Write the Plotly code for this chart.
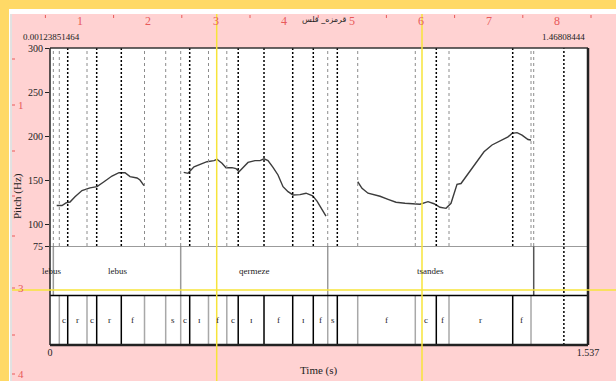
import plotly.graph_objects as go

# ---------------- data ----------------
T_MAX = 1.537
CURSOR_START = 0.00123851464
CURSOR_END = 1.46808444

pitch_t = [0.0191, 0.0343, 0.0457, 0.0571, 0.0714, 0.0914, 0.1143, 0.1343, 0.1543, 0.1771,
           0.1971, 0.2143, 0.2286, 0.2486, 0.2571, 0.2686, None,
           0.3820, 0.3943, 0.4114, 0.4285, 0.4485, 0.4685, 0.4771, 0.4914, 0.5028, 0.5200,
           0.5314, 0.5400, 0.5514, 0.5657, 0.5857, 0.6000, 0.6114, 0.6228, 0.6371, 0.6514,
           0.6657, 0.6800, 0.6942, 0.7142, 0.7314, 0.7505, 0.7628, 0.7742, 0.7885, None,
           0.8791, 0.8914, 0.9085, 0.9285, 0.9428, 0.9657, 0.9885, 1.0142, 1.0428, 1.0571,
           1.0799, 1.0971, 1.1142, 1.1314, 1.1456, 1.1542, 1.1628, 1.1742, 1.1914, 1.2171,
           1.2399, 1.2628, 1.2856, 1.3085, 1.3199, 1.3342, 1.3485, 1.3656, 1.3742]
pitch_hz = [121, 121, 124, 125, 131, 138, 141, 142.4, 148, 154.5,
            158.3, 158.3, 153.8, 152.3, 150, 143.5, None,
            158.7, 157.6, 165, 168, 170.8, 172, 173.5, 169, 164, 164,
            163, 159.5, 164, 170, 172, 172, 174, 172, 164.4, 155.7,
            142.4, 136.7, 133, 133.4, 135, 132, 126, 119, 109, None,
            148, 140.6, 135, 133, 131.5, 128, 124.7, 123.5, 122.7, 122.5,
            125.4, 123, 119, 117.8, 123.5, 133, 145, 146, 155.7, 169.7,
            182, 189.8, 194.7, 199, 203, 203.8, 201, 196, 195.5]

phone_bounds = [0, 0.0266, 0.0506, 0.1057, 0.1334, 0.2037, 0.2700, 0.3305, 0.3734, 0.3991,
                0.4528, 0.5051, 0.5377, 0.6114, 0.6934, 0.7522, 0.7934, 0.8208, 0.8791,
                1.0436, 1.1036, 1.1399, 1.3219, 1.3742, 1.537]
phone_dark = [False, False, True, False, True, True, False, False, False, True,
              False, False, True, True, True, True, False, True, False,
              False, True, False, True, False, False]
phone_labels = ["", "c", "r", "c", "r", "f", "", "s", "c", "ɪ", "f", "c", "ɪ", "f", "ɪ",
                "f", "s", "", "f", "c", "f", "r", "f", ""]

word_bounds = [0, 0.0095, 0.3734, 0.7934, 1.3819, 1.537]
word_labels = ["lebus", "lebus", "qermeze", "tsandes", ""]

pitch_ticks = [75, 100, 150, 200, 250, 300]
time_ticks = [0, 1.537]
time_ticktext = ["0", "1.537"]
ruler_top_labels = ["1", "2", "3", "4", "5", "6", "7", "8"]
ruler_left_labels = ["1", "3", "4"]
title_text = "قرمزه_ قلس"

# ---------------- layout helpers ----------------
W, H = 616, 381
L, R, T, B = 50, 28, 48, 36
PW = W - L - R
PH = H - T - B


def px(x):
    return (x - L) / PW


def py(y):
    return (H - B - y) / PH


SERIF = "Liberation Serif"
PINK = "#FFD2D2"
YELLOW = "#FFD966"
RED = "#E85A5A"

fig = go.Figure()
fig.add_trace(go.Scatter(x=pitch_t, y=pitch_hz, mode="lines", connectgaps=False,
                         line=dict(color="#3c3c3c", width=1.4), xaxis="x", yaxis="y",
                         hoverinfo="skip", showlegend=False))

shapes = []
ann = []

# vertical boundary lines in pitch area
extra_light = [word_bounds[1], word_bounds[4]]
for t, dark in zip(phone_bounds[1:-1], phone_dark[1:-1]):
    if dark:
        shapes.append(dict(type="line", xref="x", yref="y", x0=t, x1=t, y0=75, y1=300,
                           line=dict(color="black", width=1.5, dash="2px,2px")))
    else:
        shapes.append(dict(type="line", xref="x", yref="y", x0=t, x1=t, y0=75, y1=300,
                           line=dict(color="#8c8c8c", width=1, dash="3px,3px")))
for t in extra_light:
    shapes.append(dict(type="line", xref="x", yref="y", x0=t, x1=t, y0=75, y1=300,
                       line=dict(color="#8c8c8c", width=1, dash="3px,3px")))

# phone tier boundaries (y2 0..1)
for t, dark in zip(phone_bounds[1:-1], phone_dark[1:-1]):
    shapes.append(dict(type="line", xref="x", yref="y2", x0=t, x1=t, y0=0, y1=1,
                       line=dict(color="black" if dark else "#a8a8a8", width=1.5)))
for a, b, lab in zip(phone_bounds[:-1], phone_bounds[1:], phone_labels):
    if lab:
        ann.append(dict(x=(a + b) / 2, y=0.5, xref="x", yref="y2", text=lab, showarrow=False,
                        font=dict(family=SERIF, size=9, color="#222"), xanchor="center",
                        yanchor="middle"))

# word tier boundaries (y2 1..2)
for i, t in enumerate(word_bounds[1:-1]):
    col = "#555555" if i == len(word_bounds) - 3 else "#9a9a9a"
    shapes.append(dict(type="line", xref="x", yref="y2", x0=t, x1=t, y0=1, y1=2,
                       line=dict(color=col, width=1.5)))
for a, b, lab in zip(word_bounds[:-1], word_bounds[1:], word_labels):
    if lab:
        ann.append(dict(x=(a + b) / 2, y=1.5, xref="x", yref="y2", text=lab, showarrow=False,
                        font=dict(family=SERIF, size=9, color="#222"), xanchor="center",
                        yanchor="middle"))

# tier horizontal lines
shapes.append(dict(type="line", xref="paper", yref="y2", x0=0, x1=1, y0=2, y1=2,
                   line=dict(color="#7a7a7a", width=1.5)))
shapes.append(dict(type="line", xref="paper", yref="y2", x0=0, x1=1, y0=1, y1=1,
                   line=dict(color="black", width=1.5)))

# end cursor dotted line
shapes.append(dict(type="line", xref="x", yref="paper", x0=CURSOR_END, x1=CURSOR_END, y0=0, y1=1,
                   line=dict(color="black", width=1.5, dash="2px,2px")))

# frame
shapes.append(dict(type="line", xref="paper", yref="paper", x0=0, x1=1, y0=1, y1=1,
                   line=dict(color="#333", width=1.5)))
shapes.append(dict(type="line", xref="paper", yref="paper", x0=0, x1=0, y0=0, y1=1,
                   line=dict(color="#222", width=1.5)))
shapes.append(dict(type="line", xref="paper", yref="paper", x0=1, x1=1, y0=0, y1=1,
                   line=dict(color="#222", width=2.5)))
shapes.append(dict(type="line", xref="paper", yref="paper", x0=0, x1=1, y0=0, y1=0,
                   line=dict(color="#222", width=2.5)))

# page decoration: yellow border, white strip
shapes.append(dict(type="rect", xref="paper", yref="paper", x0=px(0), x1=px(W), y0=py(0), y1=py(9),
                   line=dict(width=0), fillcolor=YELLOW))
shapes.append(dict(type="rect", xref="paper", yref="paper", x0=px(0), x1=px(9), y0=py(0), y1=py(H),
                   line=dict(width=0), fillcolor=YELLOW))
shapes.append(dict(type="rect", xref="paper", yref="paper", x0=px(9), x1=px(W), y0=py(9), y1=py(14),
                   line=dict(width=0), fillcolor="white"))
shapes.append(dict(type="rect", xref="paper", yref="paper", x0=px(9), x1=px(12), y0=py(9), y1=py(H),
                   line=dict(width=0), fillcolor="white"))
shapes.append(dict(type="line", xref="paper", yref="paper", x0=px(11), x1=px(11), y0=py(14), y1=py(H),
                   line=dict(color="#c4c4c4", width=1)))

# top ruler
for k, lab in enumerate(ruler_top_labels):
    xc = 79.5 + 68.2 * k
    ann.append(dict(x=px(xc), y=py(21), xref="paper", yref="paper", text=lab, showarrow=False,
                    font=dict(family=SERIF, size=12, color=RED), xanchor="center", yanchor="middle"))
for k in range(9):
    xc = 45.4 + 68.2 * k
    shapes.append(dict(type="line", xref="paper", yref="paper", x0=px(xc), x1=px(xc),
                       y0=py(15), y1=py(18), line=dict(color=RED, width=1)))

# left ruler
for yc in [59, 151, 196, 236, 335]:
    shapes.append(dict(type="line", xref="paper", yref="paper", x0=px(12), x1=px(15),
                       y0=py(yc), y1=py(yc), line=dict(color=RED, width=1)))
for lab, yc in zip(ruler_left_labels, [105, 288, 374]):
    shapes.append(dict(type="line", xref="paper", yref="paper", x0=px(12), x1=px(15),
                       y0=py(yc), y1=py(yc), line=dict(color=RED, width=1)))
    ann.append(dict(x=px(15.5), y=py(yc), xref="paper", yref="paper", text=lab, showarrow=False,
                    font=dict(family=SERIF, size=11, color=RED), xanchor="left", yanchor="middle"))

# yellow guide lines
for xc in [216.7, 422]:
    shapes.append(dict(type="line", xref="paper", yref="paper", x0=px(xc), x1=px(xc),
                       y0=py(14), y1=py(H), line=dict(color="#F7E43A", width=1.5)))
shapes.append(dict(type="line", xref="paper", yref="paper", x0=px(12), x1=px(W),
                   y0=py(290), y1=py(290), line=dict(color="#F7E43A", width=1.5)))

# texts
ann.append(dict(x=px(51), y=py(37), xref="paper", yref="paper", text=f"{CURSOR_START:.11f}",
                showarrow=False, font=dict(family=SERIF, size=9, color="#222"),
                xanchor="center", yanchor="middle"))
ann.append(dict(x=CURSOR_END, y=py(37), xref="x", yref="paper", text=f"{CURSOR_END:.8f}",
                showarrow=False, font=dict(family=SERIF, size=9, color="#222"),
                xanchor="center", yanchor="middle"))
ann.append(dict(x=px(324), y=py(20), xref="paper", yref="paper", text=title_text,
                showarrow=False, font=dict(family="DejaVu Sans", size=8, color="#222"),
                xanchor="center", yanchor="middle"))
ann.append(dict(x=px(17), y=py(196), xref="paper", yref="paper", text="Pitch (Hz)",
                showarrow=False, textangle=-90, font=dict(family=SERIF, size=11, color="#222"),
                xanchor="center", yanchor="middle"))
ann.append(dict(x=0.5, y=py(370), xref="paper", yref="paper", text="Time (s)",
                showarrow=False, font=dict(family=SERIF, size=11, color="#222"),
                xanchor="center", yanchor="middle"))

fig.update_layout(
    width=W, height=H, autosize=False,
    margin=dict(l=L, r=R, t=T, b=B, pad=0),
    paper_bgcolor=PINK, plot_bgcolor="white",
    showlegend=False,
    xaxis=dict(range=[0, T_MAX], anchor="y2", tickvals=time_ticks, ticktext=time_ticktext,
               ticks="", showgrid=False, zeroline=False, showline=False,
               tickfont=dict(family=SERIF, size=10, color="#222")),
    yaxis=dict(domain=[1 / 3, 1], range=[75, 300], tickvals=pitch_ticks, ticks="outside",
               ticklen=4, tickcolor="#222", showgrid=False, zeroline=False, showline=False,
               tickfont=dict(family=SERIF, size=10, color="#222")),
    yaxis2=dict(domain=[0, 1 / 3], range=[0, 2], showticklabels=False, ticks="",
                showgrid=False, zeroline=False, showline=False),
    shapes=shapes, annotations=ann,
)

fig.write_html("out.html", config={"displayModeBar": False},
               post_script="document.body.style.margin='0px';document.body.style.overflow='hidden';")
